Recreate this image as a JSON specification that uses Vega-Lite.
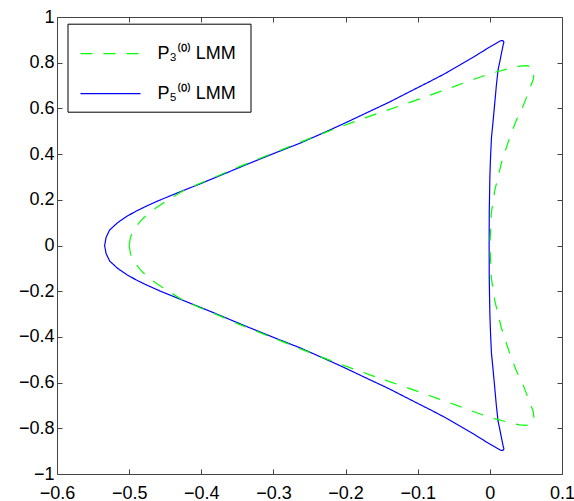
{
  "$schema": "https://vega.github.io/schema/vega-lite/v6.json",
  "width": 505,
  "height": 457,
  "autosize": {"type": "none"},
  "padding": {"left": 57, "top": 17, "right": 12, "bottom": 27},
  "background": "white",
  "config": {
    "view": {"stroke": null},
    "font": "Liberation Sans",
    "axis": {
      "grid": false,
      "domainColor": "#444",
      "domainWidth": 1,
      "tickColor": "#444",
      "tickWidth": 1,
      "tickSize": -5,
      "labelColor": "#000",
      "labelFont": "Liberation Sans",
      "labelFontSize": 18,
      "labelFlush": false,
      "labelOverlap": false,
      "title": null
    },
    "legend": {
      "orient": "none",
      "legendX": 10.5,
      "legendY": 6.7,
      "strokeColor": "black",
      "fillColor": "white",
      "padding": 9,
      "symbolType": "M-1.5,0H1.5",
      "symbolSize": 1600,
      "symbolStrokeWidth": 1.2,
      "symbolFillColor": "transparent",
      "symbolOffset": 13,
      "labelFont": "Liberation Sans",
      "labelFontSize": 18,
      "labelColor": "black",
      "labelOffset": 26,
      "rowPadding": 10,
      "title": null
    }
  },
  "datasets": {
    "d": [
      {"s":"P5","i":0,"x":-0.534,"y":0},
      {"s":"P5","i":1,"x":-0.532,"y":0.035},
      {"s":"P5","i":2,"x":-0.527,"y":0.068},
      {"s":"P5","i":3,"x":-0.516,"y":0.100},
      {"s":"P5","i":4,"x":-0.503,"y":0.128},
      {"s":"P5","i":5,"x":-0.490,"y":0.151},
      {"s":"P5","i":6,"x":-0.475,"y":0.174},
      {"s":"P5","i":7,"x":-0.458,"y":0.198},
      {"s":"P5","i":8,"x":-0.430,"y":0.234},
      {"s":"P5","i":9,"x":-0.400,"y":0.272},
      {"s":"P5","i":10,"x":-0.374,"y":0.306},
      {"s":"P5","i":11,"x":-0.333,"y":0.360},
      {"s":"P5","i":12,"x":-0.300,"y":0.402},
      {"s":"P5","i":13,"x":-0.263,"y":0.448},
      {"s":"P5","i":14,"x":-0.230,"y":0.494},
      {"s":"P5","i":15,"x":-0.200,"y":0.537},
      {"s":"P5","i":16,"x":-0.170,"y":0.582},
      {"s":"P5","i":17,"x":-0.139,"y":0.628},
      {"s":"P5","i":18,"x":-0.110,"y":0.675},
      {"s":"P5","i":19,"x":-0.083,"y":0.718},
      {"s":"P5","i":20,"x":-0.060,"y":0.756},
      {"s":"P5","i":21,"x":-0.042,"y":0.789},
      {"s":"P5","i":22,"x":-0.020,"y":0.830},
      {"s":"P5","i":23,"x":0.000,"y":0.869},
      {"s":"P5","i":24,"x":0.010,"y":0.887},
      {"s":"P5","i":25,"x":0.015,"y":0.896},
      {"s":"P5","i":26,"x":0.018,"y":0.897},
      {"s":"P5","i":27,"x":0.0195,"y":0.890},
      {"s":"P5","i":28,"x":0.0185,"y":0.879},
      {"s":"P5","i":29,"x":0.016,"y":0.840},
      {"s":"P5","i":30,"x":0.0135,"y":0.800},
      {"s":"P5","i":31,"x":0.0114,"y":0.769},
      {"s":"P5","i":32,"x":0.009,"y":0.700},
      {"s":"P5","i":33,"x":0.0068,"y":0.623},
      {"s":"P5","i":34,"x":0.0045,"y":0.545},
      {"s":"P5","i":35,"x":0.0022,"y":0.470},
      {"s":"P5","i":36,"x":0.001,"y":0.390},
      {"s":"P5","i":37,"x":0.000,"y":0.300},
      {"s":"P5","i":38,"x":-0.0008,"y":0.150},
      {"s":"P5","i":39,"x":-0.001,"y":0},
      {"s":"P5","i":40,"x":-0.0008,"y":-0.150},
      {"s":"P5","i":41,"x":0.000,"y":-0.300},
      {"s":"P5","i":42,"x":0.001,"y":-0.390},
      {"s":"P5","i":43,"x":0.0022,"y":-0.470},
      {"s":"P5","i":44,"x":0.0045,"y":-0.545},
      {"s":"P5","i":45,"x":0.0068,"y":-0.623},
      {"s":"P5","i":46,"x":0.009,"y":-0.700},
      {"s":"P5","i":47,"x":0.0114,"y":-0.769},
      {"s":"P5","i":48,"x":0.0135,"y":-0.800},
      {"s":"P5","i":49,"x":0.016,"y":-0.840},
      {"s":"P5","i":50,"x":0.0185,"y":-0.879},
      {"s":"P5","i":51,"x":0.0195,"y":-0.890},
      {"s":"P5","i":52,"x":0.018,"y":-0.897},
      {"s":"P5","i":53,"x":0.015,"y":-0.896},
      {"s":"P5","i":54,"x":0.010,"y":-0.887},
      {"s":"P5","i":55,"x":0.000,"y":-0.869},
      {"s":"P5","i":56,"x":-0.020,"y":-0.830},
      {"s":"P5","i":57,"x":-0.042,"y":-0.789},
      {"s":"P5","i":58,"x":-0.060,"y":-0.756},
      {"s":"P5","i":59,"x":-0.083,"y":-0.718},
      {"s":"P5","i":60,"x":-0.110,"y":-0.675},
      {"s":"P5","i":61,"x":-0.139,"y":-0.628},
      {"s":"P5","i":62,"x":-0.170,"y":-0.582},
      {"s":"P5","i":63,"x":-0.200,"y":-0.537},
      {"s":"P5","i":64,"x":-0.230,"y":-0.494},
      {"s":"P5","i":65,"x":-0.263,"y":-0.448},
      {"s":"P5","i":66,"x":-0.300,"y":-0.402},
      {"s":"P5","i":67,"x":-0.333,"y":-0.360},
      {"s":"P5","i":68,"x":-0.374,"y":-0.306},
      {"s":"P5","i":69,"x":-0.400,"y":-0.272},
      {"s":"P5","i":70,"x":-0.430,"y":-0.234},
      {"s":"P5","i":71,"x":-0.458,"y":-0.198},
      {"s":"P5","i":72,"x":-0.475,"y":-0.174},
      {"s":"P5","i":73,"x":-0.490,"y":-0.151},
      {"s":"P5","i":74,"x":-0.503,"y":-0.128},
      {"s":"P5","i":75,"x":-0.516,"y":-0.100},
      {"s":"P5","i":76,"x":-0.527,"y":-0.068},
      {"s":"P5","i":77,"x":-0.532,"y":-0.035},
      {"s":"P5","i":78,"x":-0.534,"y":0},
      {"s":"P3","i":0,"x":-0.500,"y":0},
      {"s":"P3","i":1,"x":-0.498,"y":0.039},
      {"s":"P3","i":2,"x":-0.492,"y":0.076},
      {"s":"P3","i":3,"x":-0.484,"y":0.108},
      {"s":"P3","i":4,"x":-0.473,"y":0.142},
      {"s":"P3","i":5,"x":-0.458,"y":0.175},
      {"s":"P3","i":6,"x":-0.443,"y":0.205},
      {"s":"P3","i":7,"x":-0.427,"y":0.236},
      {"s":"P3","i":8,"x":-0.405,"y":0.268},
      {"s":"P3","i":9,"x":-0.379,"y":0.302},
      {"s":"P3","i":10,"x":-0.349,"y":0.343},
      {"s":"P3","i":11,"x":-0.319,"y":0.381},
      {"s":"P3","i":12,"x":-0.284,"y":0.425},
      {"s":"P3","i":13,"x":-0.259,"y":0.457},
      {"s":"P3","i":14,"x":-0.217,"y":0.508},
      {"s":"P3","i":15,"x":-0.185,"y":0.545},
      {"s":"P3","i":16,"x":-0.152,"y":0.582},
      {"s":"P3","i":17,"x":-0.120,"y":0.616},
      {"s":"P3","i":18,"x":-0.088,"y":0.652},
      {"s":"P3","i":19,"x":-0.056,"y":0.688},
      {"s":"P3","i":20,"x":-0.025,"y":0.724},
      {"s":"P3","i":21,"x":0.000,"y":0.752},
      {"s":"P3","i":22,"x":0.028,"y":0.776},
      {"s":"P3","i":23,"x":0.041,"y":0.785},
      {"s":"P3","i":24,"x":0.051,"y":0.787},
      {"s":"P3","i":25,"x":0.058,"y":0.781},
      {"s":"P3","i":26,"x":0.061,"y":0.768},
      {"s":"P3","i":27,"x":0.061,"y":0.750},
      {"s":"P3","i":28,"x":0.060,"y":0.725},
      {"s":"P3","i":29,"x":0.053,"y":0.667},
      {"s":"P3","i":30,"x":0.046,"y":0.609},
      {"s":"P3","i":31,"x":0.037,"y":0.550},
      {"s":"P3","i":32,"x":0.028,"y":0.477},
      {"s":"P3","i":33,"x":0.016,"y":0.361},
      {"s":"P3","i":34,"x":0.007,"y":0.244},
      {"s":"P3","i":35,"x":0.002,"y":0.142},
      {"s":"P3","i":36,"x":0.001,"y":0.060},
      {"s":"P3","i":37,"x":0.000,"y":0},
      {"s":"P3","i":38,"x":0.001,"y":-0.060},
      {"s":"P3","i":39,"x":0.002,"y":-0.142},
      {"s":"P3","i":40,"x":0.007,"y":-0.244},
      {"s":"P3","i":41,"x":0.016,"y":-0.361},
      {"s":"P3","i":42,"x":0.028,"y":-0.477},
      {"s":"P3","i":43,"x":0.037,"y":-0.550},
      {"s":"P3","i":44,"x":0.046,"y":-0.609},
      {"s":"P3","i":45,"x":0.053,"y":-0.667},
      {"s":"P3","i":46,"x":0.060,"y":-0.725},
      {"s":"P3","i":47,"x":0.061,"y":-0.750},
      {"s":"P3","i":48,"x":0.061,"y":-0.768},
      {"s":"P3","i":49,"x":0.058,"y":-0.781},
      {"s":"P3","i":50,"x":0.051,"y":-0.787},
      {"s":"P3","i":51,"x":0.041,"y":-0.785},
      {"s":"P3","i":52,"x":0.028,"y":-0.776},
      {"s":"P3","i":53,"x":0.000,"y":-0.752},
      {"s":"P3","i":54,"x":-0.025,"y":-0.724},
      {"s":"P3","i":55,"x":-0.056,"y":-0.688},
      {"s":"P3","i":56,"x":-0.088,"y":-0.652},
      {"s":"P3","i":57,"x":-0.120,"y":-0.616},
      {"s":"P3","i":58,"x":-0.152,"y":-0.582},
      {"s":"P3","i":59,"x":-0.185,"y":-0.545},
      {"s":"P3","i":60,"x":-0.217,"y":-0.508},
      {"s":"P3","i":61,"x":-0.259,"y":-0.457},
      {"s":"P3","i":62,"x":-0.284,"y":-0.425},
      {"s":"P3","i":63,"x":-0.319,"y":-0.381},
      {"s":"P3","i":64,"x":-0.349,"y":-0.343},
      {"s":"P3","i":65,"x":-0.379,"y":-0.302},
      {"s":"P3","i":66,"x":-0.405,"y":-0.268},
      {"s":"P3","i":67,"x":-0.427,"y":-0.236},
      {"s":"P3","i":68,"x":-0.443,"y":-0.205},
      {"s":"P3","i":69,"x":-0.458,"y":-0.175},
      {"s":"P3","i":70,"x":-0.473,"y":-0.142},
      {"s":"P3","i":71,"x":-0.484,"y":-0.108},
      {"s":"P3","i":72,"x":-0.492,"y":-0.076},
      {"s":"P3","i":73,"x":-0.498,"y":-0.039},
      {"s":"P3","i":74,"x":-0.500,"y":0}
    ]
  },
  "data": {"name": "d"},
  "layer": [
    {
      "transform": [{"filter": "datum.s == 'P5'"}],
      "mark": {"type": "line", "strokeWidth": 1.2},
      "encoding": {
        "x": {"field": "x", "type": "quantitative", "scale": {"domain": [-0.6, 0.1], "nice": false, "zero": false},
              "axis": {"orient": "bottom", "values": [-0.6, -0.5, -0.4, -0.3, -0.2, -0.1, 0, 0.1], "format": "~g", "labelPadding": 15}},
        "y": {"field": "y", "type": "quantitative", "scale": {"domain": [-1, 1], "nice": false, "zero": false},
              "axis": {"orient": "left", "values": [-1, -0.8, -0.6, -0.4, -0.2, 0, 0.2, 0.4, 0.6, 0.8, 1], "format": "~g", "labelPadding": 8}},
        "order": {"field": "i", "type": "quantitative"},
        "color": {"field": "s", "type": "nominal", "scale": {"domain": ["P3", "P5"], "range": ["#00ff00", "#0000ff"]},
                  "legend": {"labelExpr": "datum.label == 'P3' ? 'P₃⁽⁰⁾ LMM' : 'P₅⁽⁰⁾  LMM'"}},
        "strokeDash": {"field": "s", "type": "nominal", "scale": {"domain": ["P3", "P5"], "range": [[12, 11], [1, 0]]},
                  "legend": {"labelExpr": "datum.label == 'P3' ? 'P₃⁽⁰⁾ LMM' : 'P₅⁽⁰⁾  LMM'"}}
      }
    },
    {
      "transform": [{"filter": "datum.s == 'P3'"}],
      "mark": {"type": "line", "strokeWidth": 1.2},
      "encoding": {
        "x": {"field": "x", "type": "quantitative", "axis": null},
        "y": {"field": "y", "type": "quantitative", "axis": null},
        "order": {"field": "i", "type": "quantitative"},
        "color": {"field": "s", "type": "nominal"},
        "strokeDash": {"field": "s", "type": "nominal"}
      }
    },
    {
      "mark": {"type": "point", "opacity": 0},
      "encoding": {
        "x": {"field": "x", "type": "quantitative",
              "axis": {"orient": "top", "values": [-0.6, -0.5, -0.4, -0.3, -0.2, -0.1, 0, 0.1], "labels": false}},
        "y": {"field": "y", "type": "quantitative",
              "axis": {"orient": "right", "values": [-1, -0.8, -0.6, -0.4, -0.2, 0, 0.2, 0.4, 0.6, 0.8, 1], "labels": false}}
      }
    }
  ],
  "resolve": {"axis": {"x": "independent", "y": "independent"}}
}
